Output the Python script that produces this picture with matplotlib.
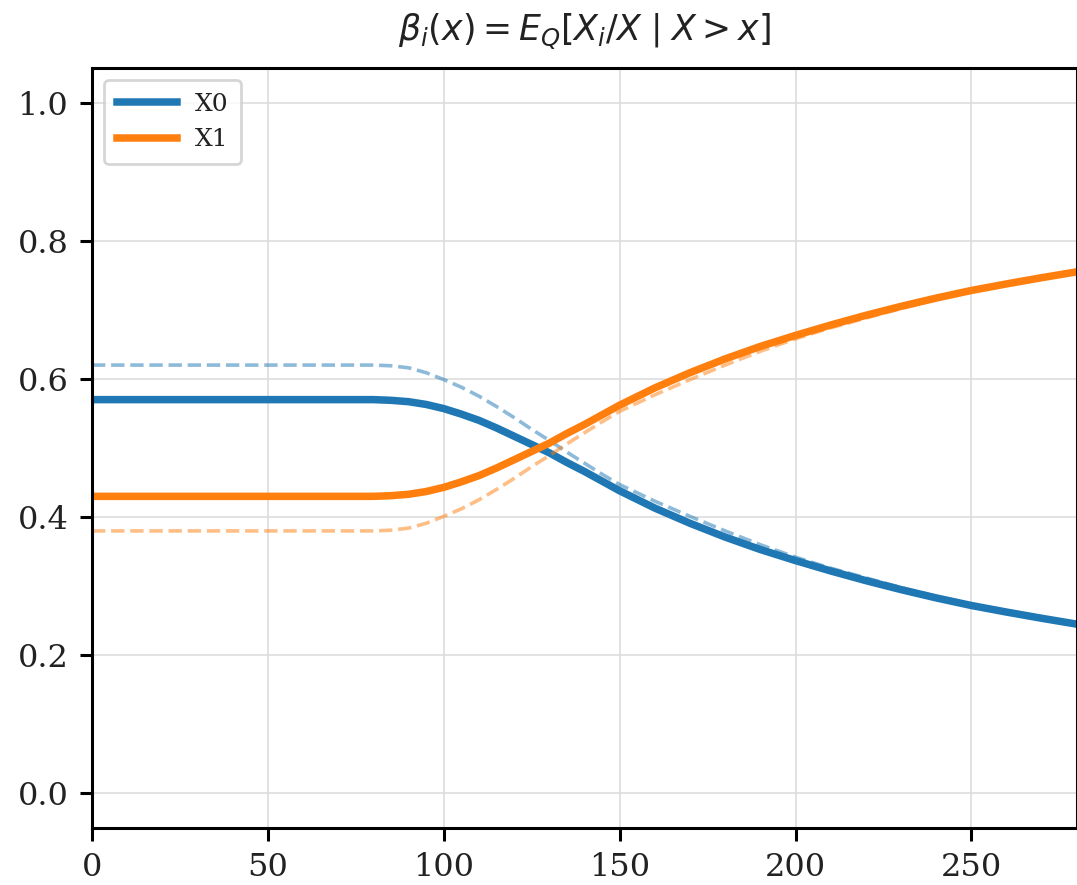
import matplotlib
matplotlib.use("Agg")
import matplotlib.pyplot as plt

# umbral x
x = [0, 10, 20, 30, 40, 50, 60, 70, 80, 85, 90, 95, 100, 105, 110, 115, 120,
     125, 130, 135, 140, 145, 150, 160, 170, 180, 190, 200, 210, 220, 230,
     240, 250, 260, 270, 280]

# beta_i(x) bajo Q (linea continua)
beta_x0 = [0.570, 0.570, 0.570, 0.570, 0.570, 0.570, 0.570, 0.570, 0.570, 0.569,
           0.567, 0.563, 0.557, 0.549, 0.540, 0.529, 0.517, 0.505, 0.493, 0.479,
           0.466, 0.452, 0.438, 0.413, 0.391, 0.371, 0.353, 0.337, 0.322, 0.308,
           0.295, 0.283, 0.272, 0.2625, 0.2535, 0.245]
beta_x1 = [0.430, 0.430, 0.430, 0.430, 0.430, 0.430, 0.430, 0.430, 0.430, 0.431,
           0.433, 0.437, 0.443, 0.451, 0.460, 0.471, 0.483, 0.495, 0.507, 0.521,
           0.534, 0.548, 0.562, 0.587, 0.609, 0.629, 0.647, 0.663, 0.678, 0.692,
           0.705, 0.717, 0.728, 0.7375, 0.7465, 0.755]

# referencia (linea discontinua)
ref_x0 = [0.620, 0.620, 0.620, 0.620, 0.620, 0.620, 0.620, 0.620, 0.620, 0.619,
          0.616, 0.609, 0.599, 0.588, 0.575, 0.560, 0.544, 0.527, 0.511, 0.494,
          0.478, 0.462, 0.447, 0.423, 0.401, 0.380, 0.360, 0.342, 0.326, 0.312,
          0.298, 0.285, 0.273, 0.2635, 0.2545, 0.2455]
ref_x1 = [0.380, 0.380, 0.380, 0.380, 0.380, 0.380, 0.380, 0.380, 0.380, 0.381,
          0.384, 0.391, 0.401, 0.412, 0.425, 0.440, 0.456, 0.473, 0.489, 0.506,
          0.522, 0.538, 0.553, 0.577, 0.599, 0.620, 0.640, 0.658, 0.674, 0.688,
          0.702, 0.715, 0.727, 0.7365, 0.7455, 0.7545]

nombres = ["X0", "X1"]
colores = ["#1f77b4", "#ff7f0e"]

fig = plt.figure(figsize=(5.385, 4.425), dpi=200)
ax = fig.add_axes([0.0854, 0.0644, 0.9146, 0.8588])

for b, r, nombre, c in zip([beta_x0, beta_x1], [ref_x0, ref_x1], nombres, colores):
    ax.plot(x, b, color=c, lw=2.7, label=nombre)
    ax.plot(x, r, color=c, lw=1.3, ls="--", alpha=0.5)

ax.set_xlim(0, 280)
ax.set_ylim(-0.05, 1.05)
ax.set_xticks([0, 50, 100, 150, 200, 250])
ax.set_yticks([0.0, 0.2, 0.4, 0.6, 0.8, 1.0])
ax.set_yticklabels(["0.0", "0.2", "0.4", "0.6", "0.8", "1.0"])
ax.grid(True, color="#dddddd", lw=0.6)
ax.set_axisbelow(True)

for s in ax.spines.values():
    s.set_linewidth(1.1)
ax.tick_params(direction="out", length=4.5, width=1.1, labelsize=11.5, pad=4,
               labelcolor="#222222")
for lab in ax.get_xticklabels() + ax.get_yticklabels():
    lab.set_family("DejaVu Serif")

leg = ax.legend(loc="upper left", prop={"family": "DejaVu Serif", "size": 9},
                handlelength=2.4, handletextpad=0.7, borderpad=0.5,
                labelspacing=0.5, framealpha=0.8, edgecolor="#cccccc")
for t in leg.get_texts():
    t.set_color("#222222")
ax.set_title(r"$\beta_i(x) = E_Q[X_i/X \mid X > x]$", fontsize=12.5, pad=10,
             color="#222222")

fig.savefig("out.png", dpi=200)
